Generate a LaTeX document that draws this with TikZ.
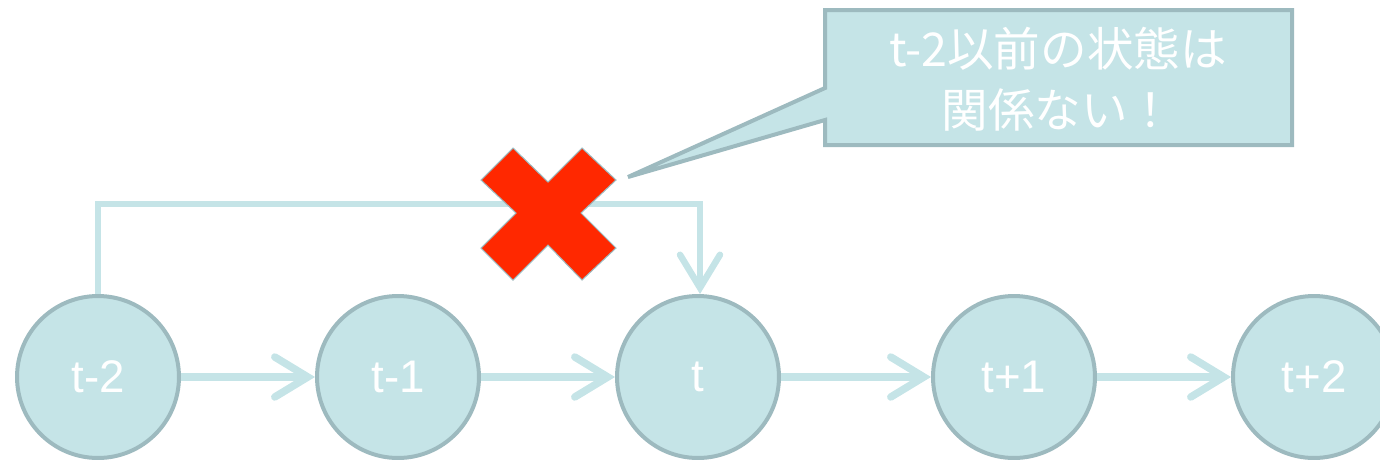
\documentclass[tikz,border=0pt]{standalone}
\usepackage{fontspec}
\setmainfont{Liberation Sans}
\newfontfamily\cjk{Noto Sans CJK JP}
\usetikzlibrary{arrows.meta}
\definecolor{nodefill}{HTML}{C5E4E7}
\definecolor{nodeline}{HTML}{9DBABF}
\definecolor{arrowcol}{HTML}{C5E4E7}
\definecolor{crossred}{HTML}{FF2800}
\tikzset{
  state/.style={circle, fill=nodefill, draw=nodeline, line width=0.08cm,
    minimum size=3.24cm, inner sep=0pt, text=white, font=\fontsize{26}{30}\selectfont},
  conn/.style={draw=arrowcol, line width=0.15cm,
    -{Straight Barb[length=0.66cm, width=0.8cm, line cap=round]}},
  toplink/.style={draw=arrowcol, line width=0.13cm,
    -{Straight Barb[length=0.66cm, width=0.8cm, line cap=round]}},
  notebox/.style={fill=nodefill, draw=nodeline, line width=0.08cm, line join=miter},
  notetext/.style={text=white, align=center, font=\cjk\fontsize{26.5}{35}\selectfont}
}
\begin{document}
\begin{tikzpicture}[x=0.02cm, y=-0.02cm]
\useasboundingbox (0,0) rectangle (1380,461);
% states
\node[state] (tm2) at (98,377) {t-2};
\node[state] (tm1) at (398,377) {t-1};
\node[state] (t)   at (698,377) {t};
\node[state] (tp1) at (1014,377) {t+1};
\node[state] (tp2) at (1314,377) {t+2};
% chain
\draw[conn] (tm2.east) -- (tm1.west);
\draw[conn] (tm1.east) -- (t.west);
\draw[conn] (t.east) -- (tp1.west);
\draw[conn] (tp1.east) -- (tp2.west);
% skip link
\coordinate (bend) at (400,204);
\draw[toplink] (tm2.north) |- (bend) -| ([xshift=0.04cm]t.north);
% red cross
\draw[fill=crossred, draw=nodeline, line width=0.6pt, line join=miter]
  (513,148) -- (548,182) -- (582,148) -- (616,180) -- (581,213) -- (616,248)
  -- (582,280) -- (548,245) -- (513,280) -- (481,248) -- (516,213) -- (481,180) -- cycle;
\coordinate (tip) at (628,177);
% callout
\draw[notebox] (825,10) -- (1292,10) -- (1292,145) -- (825,145) -- (825,120)
  -- (tip) -- (825,88) -- cycle;
\node[notetext] (note) at (1058,79) {t-2以前の状態は\\関係ない！};
\end{tikzpicture}
\end{document}
